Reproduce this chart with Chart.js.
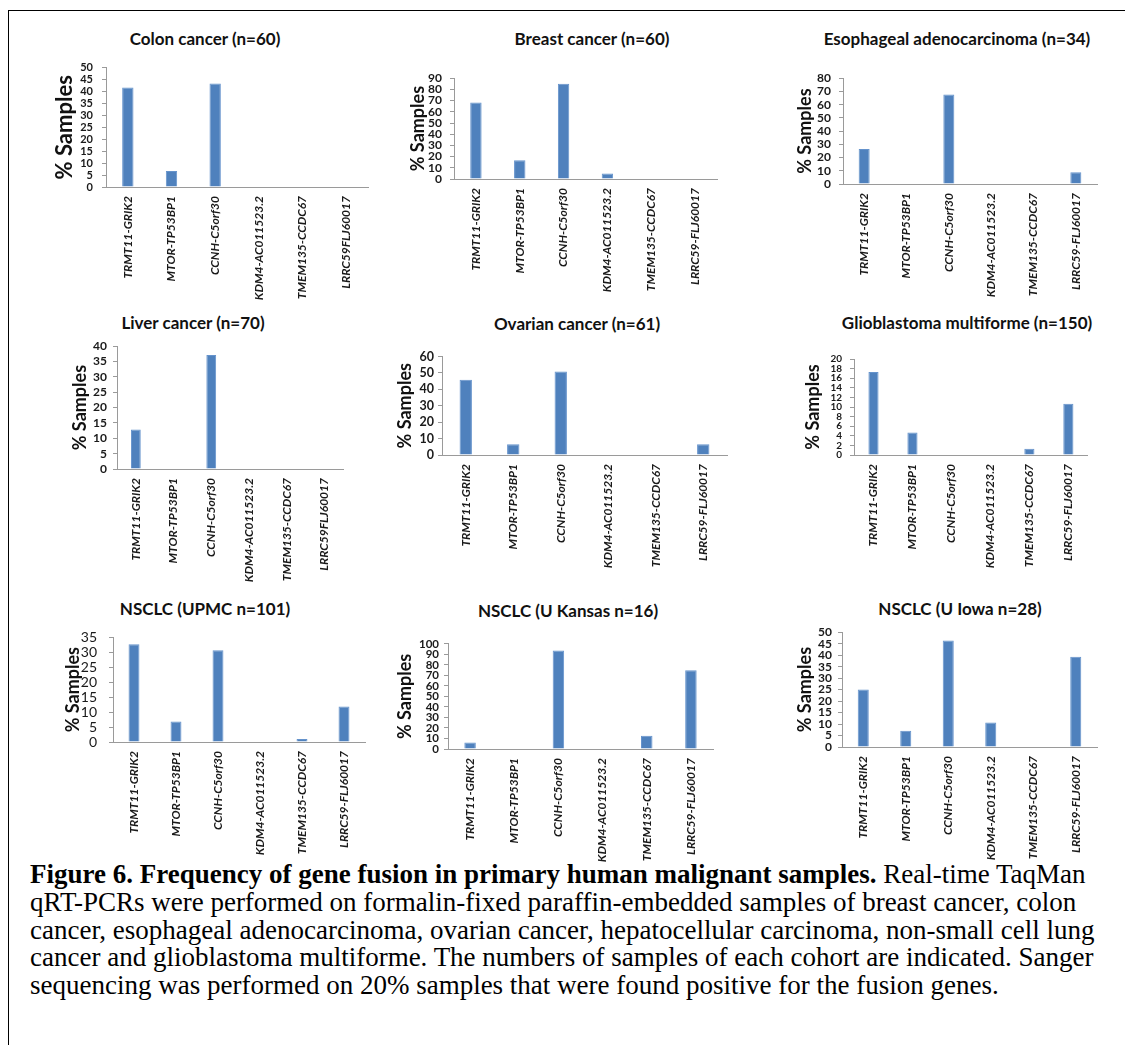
<!DOCTYPE html>
<html>
<head>
<meta charset="utf-8">
<script src="https://cdn.jsdelivr.net/npm/chart.js@4.4.1/dist/chart.umd.min.js"></script>
<style>
  html, body { margin: 0; padding: 0; background: #fff; }
  body { width: 1125px; height: 1045px; position: relative; overflow: hidden; font-family: Lato, "Open Sans", sans-serif; }
  .frame { position: absolute; left: 8px; top: 10px; width: 1200px; height: 1100px; border-left: 1.5px solid #000; border-top: 1.5px solid #000; }
  canvas { position: absolute; }
  .ttl { position: absolute; transform: translate(-50%, -50%); font-weight: bold; font-size: 17px; white-space: nowrap; color: #111; }
  .caption { position: absolute; left: 30px; top: 861px; font-family: "Liberation Serif", "Times New Roman", serif;
             font-size: 27px; line-height: 27.8px; white-space: nowrap; color: #000; }
</style>
</head>
<body>
<div class="frame"></div>

<div class="caption"><b>Figure 6. Frequency of gene fusion in primary human malignant samples.</b> Real-time TaqMan<br>qRT-PCRs were performed on formalin-fixed paraffin-embedded samples of breast cancer, colon<br>cancer, esophageal adenocarcinoma, ovarian cancer, hepatocellular carcinoma, non-small cell lung<br>cancer and glioblastoma multiforme. The numbers of samples of each cohort are indicated. Sanger<br>sequencing was performed on 20% samples that were found positive for the fusion genes.</div>

<script>
/* ─── DATA ───────────────────────────────────────────── */
const fusions    = ["TRMT11-GRIK2", "MTOR-TP53BP1", "CCNH-C5orf30", "KDM4-AC011523.2", "TMEM135-CCDC67", "LRRC59-FLJ60017"];
// colon and liver panels print the last label without the dash
const fusionsAlt = ["TRMT11-GRIK2", "MTOR-TP53BP1", "CCNH-C5orf30", "KDM4-AC011523.2", "TMEM135-CCDC67", "LRRC59FLJ60017"];

const colonPct      = [41.7, 6.7, 43.3, 0, 0, 0];
const breastPct     = [68.3, 16.7, 85.0, 5.0, 0, 0];
const esophagealPct = [26.5, 0, 67.6, 0, 0, 8.8];
const liverPct      = [12.9, 0, 37.1, 0, 0, 0];
const ovarianPct    = [45.9, 6.6, 50.8, 0, 0, 6.6];
const gbmPct        = [17.3, 4.7, 0, 0, 1.3, 10.7];
const upmcPct       = [32.7, 6.9, 30.7, 0, 1.0, 11.9];
const kansasPct     = [6.3, 0, 93.8, 0, 12.5, 75.0];
const iowaPct       = [25.0, 7.1, 46.4, 10.7, 0, 39.3];

const titles = [
  "Colon cancer (n=60)", "Breast cancer  (n=60)", "Esophageal adenocarcinoma  (n=34)",
  "Liver cancer (n=70)", "Ovarian cancer (n=61)", "Glioblastoma multiforme (n=150)",
  "NSCLC (UPMC n=101)", "NSCLC (U Kansas n=16)", "NSCLC (U Iowa n=28)"
];
const yMax  = [50, 90, 80, 40, 60, 20, 35, 100, 50];
const yStep = [5, 10, 10, 5, 10, 2, 5, 10, 5];

/* ─── LAYOUT ─────────────────────────────────────────── */
// axis x, plot top (max tick), plot bottom (zero), axis right end, y-title centre x, title centre
const layout = [
  { ax: 106, top: 62,  bot: 187, right: 368,  yt: 65,  tx: 205, ty: 38,  yts: 22, tk: 11,   tw: "bold",   tp: 9 },
  { ax: 454, top: 73,  bot: 179, right: 717,  yt: 418, tx: 592, ty: 38,  yts: 18, tk: 12,   tw: "bold",   tp: 8 },
  { ax: 843, top: 73,  bot: 184, right: 1097, yt: 805, tx: 957, ty: 38,  yts: 18, tk: 12,   tw: "bold",   tp: 8 },
  { ax: 117, top: 343, bot: 469, right: 345,  yt: 80,  tx: 193, ty: 322, yts: 18, tk: 12,   tw: "bold",   tp: 6 },
  { ax: 442, top: 355, bot: 455, right: 727,  yt: 405, tx: 577, ty: 323, yts: 18, tk: 12.5, tw: "bold",   tp: 4 },
  { ax: 854, top: 355, bot: 455, right: 1089, yt: 813, tx: 967, ty: 322, yts: 18, tk: 10,   tw: "bold",   tp: 8 },
  { ax: 113, top: 627, bot: 742, right: 365,  yt: 73,  tx: 205, ty: 608, yts: 18, tk: 14,   tw: "normal", tp: 12 },
  { ax: 448, top: 642, bot: 749, right: 713,  yt: 405, tx: 568, ty: 610, yts: 18, tk: 11.5, tw: "bold",   tp: 5 },
  { ax: 842, top: 629, bot: 747, right: 1097, yt: 805, tx: 960, ty: 608, yts: 18, tk: 12,   tw: "bold",   tp: 6 }
];

const series = [colonPct, breastPct, esophagealPct, liverPct, ovarianPct, gbmPct, upmcPct, kansasPct, iowaPct];
const labelSets = [fusionsAlt, fusions, fusions, fusionsAlt, fusions, fusions, fusions, fusions, fusions];

const FONT = "Lato, 'Open Sans', sans-serif";
const axisGrey = "#9a9a9a";
const X_H = 115;

/* ─── PANELS ─────────────────────────────────────────── */
function makePanel(i) {
  const p = layout[i];

  const t = document.createElement("div");
  t.className = "ttl";
  t.textContent = titles[i];
  t.style.left = p.tx + "px";
  t.style.top = p.ty + "px";
  document.body.appendChild(t);

  const left = Math.round(p.yt - p.yts * 0.6);
  const top  = p.top - 10;
  const yW   = p.ax - left;

  const c = document.createElement("canvas");
  c.width  = p.right - left + 3;
  c.height = p.bot - top + X_H;
  c.style.left = left + "px";
  c.style.top  = top + "px";
  document.body.appendChild(c);

  new Chart(c, {
    type: "bar",
    data: {
      labels: labelSets[i],
      datasets: [{
        data: series[i],
        backgroundColor: "#4F81BD",
        borderColor: "#6593cc",
        borderWidth: 1,
        barPercentage: 0.26,
        categoryPercentage: 1
      }]
    },
    options: {
      responsive: false,
      animation: false,
      layout: { padding: { top: 10, left: 0, right: 3, bottom: 0 } },
      plugins: { legend: { display: false }, tooltip: { enabled: false } },
      scales: {
        x: {
          grid: { display: false, drawTicks: false },
          border: { display: true, color: axisGrey, width: 1 },
          ticks: {
            autoSkip: false, minRotation: 90, maxRotation: 90, padding: 9,
            color: "#1a1a1a",
            font: { family: FONT, size: 12, style: "italic", weight: "bold" }
          },
          afterFit: s => { s.height = X_H; }
        },
        y: {
          min: 0,
          max: yMax[i],
          grid: { display: true, drawOnChartArea: false, drawTicks: true, tickLength: 4, color: axisGrey },
          border: { display: true, color: axisGrey, width: 1 },
          ticks: {
            autoSkip: false, stepSize: yStep[i], padding: p.tp, color: "#1a1a1a",
            font: { family: FONT, size: p.tk, weight: p.tw }
          },
          title: {
            display: true, text: "% Samples", padding: 0, color: "#111",
            font: { family: FONT, size: p.yts, weight: "bold" }
          },
          afterFit: s => { s.width = yW; }
        }
      }
    }
  });
}

for (let i = 0; i < layout.length; i++) makePanel(i);
</script>
</body>
</html>
